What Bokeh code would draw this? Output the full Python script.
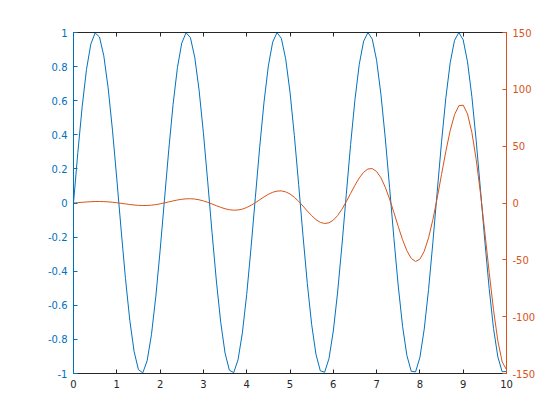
from bokeh.plotting import figure
from bokeh.models import LinearAxis, Range1d, FixedTicker
from bokeh.embed import file_html
from bokeh.resources import INLINE

# x samples 0..10 step 0.1
x = [round(i * 0.1, 1) for i in range(101)]

left_values = [
    0.0, 0.2955, 0.5646, 0.7833, 0.932, 0.9975, 0.9738, 0.8632, 0.6755, 0.4274,
    0.1411, -0.1577, -0.4425, -0.6878, -0.8716, -0.9775, -0.9962, -0.9258, -0.7728, -0.5507,
    -0.2794, 0.0168, 0.3115, 0.5784, 0.7937, 0.938, 0.9985, 0.9699, 0.8546, 0.663,
    0.4121, 0.1245, -0.1743, -0.4575, -0.6999, -0.8797, -0.9809, -0.9946, -0.9193, -0.762,
    -0.5366, -0.2632, 0.0336, 0.3275, 0.5921, 0.8038, 0.9437, 0.9993, 0.9657, 0.8457,
    0.6503, 0.3967, 0.1078, -0.1909, -0.4724, -0.7118, -0.8876, -0.9841, -0.9927, -0.9126,
    -0.751, -0.5224, -0.247, 0.0504, 0.3433, 0.6055, 0.8137, 0.9491, 0.9997, 0.9612,
    0.8367, 0.6374, 0.3812, 0.0911, -0.2073, -0.4872, -0.7235, -0.8951, -0.9871, -0.9904,
    -0.9056, -0.7398, -0.5079, -0.2306, 0.0672, 0.3591, 0.6186, 0.8234, 0.9543, 0.9999,
    0.9564, 0.8276, 0.6243, 0.3656, 0.0743, -0.2237, -0.5019, -0.735, -0.9025, -0.9898,
    -0.988,
]

right_values = [
    0.0, 0.31, 0.62, 0.91, 1.14, 1.28, 1.31, 1.22, 1.01, 0.67,
    0.23, -0.27, -0.81, -1.32, -1.76, -2.07, -2.22, -2.17, -1.9, -1.42,
    -0.76, 0.05, 0.94, 1.83, 2.64, 3.27, 3.66, 3.74, 3.47, 2.83,
    1.85, 0.59, -0.86, -2.38, -3.83, -5.06, -5.93, -6.33, -6.15, -5.36,
    -3.97, -2.04, 0.27, 2.81, 5.34, 7.63, 9.41, 10.48, 10.65, 9.8,
    7.92, 5.08, 1.45, -2.7, -7.03, -11.13, -14.6, -17.01, -18.04, -17.44,
    -15.08, -11.03, -5.48, 1.18, 8.42, 15.62, 22.06, 27.05, 29.95, 30.28,
    27.71, 22.19, 13.95, 3.5, -8.38, -20.72, -32.34, -42.06, -48.76, -51.44,
    -49.44, -42.46, -30.65, -14.63, 4.48, 25.17, 45.59, 63.8, 77.73, 85.62,
    86.09, 78.32, 62.11, 38.24, 8.17, -25.86, -60.99, -93.89, -121.2, -139.73,
    -146.63,
]

x_ticks = [0, 1, 2, 3, 4, 5, 6, 7, 8, 9, 10]
left_ticks = [-1, -0.8, -0.6, -0.4, -0.2, 0, 0.2, 0.4, 0.6, 0.8, 1]
left_tick_labels = ["-1", "-0.8", "-0.6", "-0.4", "-0.2", "0", "0.2", "0.4", "0.6", "0.8", "1"]
right_ticks = [-150, -100, -50, 0, 50, 100, 150]
right_tick_labels = ["-150", "-100", "-50", "0", "50", "100", "150"]

BLUE = "#0072BD"
ORANGE = "#D95319"
DARK = "#262626"
FONT = "DejaVu Sans"
FS = "10px"

p = figure(width=560, height=420, output_backend="svg", toolbar_location=None,
           x_range=Range1d(0, 10), y_range=Range1d(-1, 1),
           y_axis_location=None, x_axis_location=None,
           min_border_left=73, min_border_right=54, min_border_top=32, min_border_bottom=47)
p.frame_width = 433
p.frame_height = 341
p.extra_y_ranges = {"right": Range1d(-150, 150)}
p.grid.visible = False
p.outline_line_color = None
p.background_fill_color = "white"
p.border_fill_color = "white"


def style(ax, color, label_color):
    ax.axis_line_color = color
    ax.axis_line_width = 1
    ax.major_tick_line_color = color
    ax.major_tick_in = 4
    ax.major_tick_out = 0
    ax.minor_tick_line_color = None
    ax.major_label_text_font = FONT
    ax.major_label_text_font_size = FS
    ax.major_label_text_color = label_color
    ax.major_label_standoff = 6


xb = LinearAxis(ticker=FixedTicker(ticks=x_ticks))
style(xb, DARK, DARK)
p.add_layout(xb, "below")

xt = LinearAxis(ticker=FixedTicker(ticks=x_ticks),
                major_label_overrides={t: "" for t in x_ticks})
style(xt, DARK, DARK)
xt.major_label_standoff = 0
p.add_layout(xt, "above")

yl = LinearAxis(ticker=FixedTicker(ticks=left_ticks),
                major_label_overrides={t: s for t, s in zip(left_ticks, left_tick_labels)})
style(yl, BLUE, BLUE)
p.add_layout(yl, "left")

yr = LinearAxis(y_range_name="right", ticker=FixedTicker(ticks=right_ticks),
                major_label_overrides={t: s for t, s in zip(right_ticks, right_tick_labels)})
style(yr, ORANGE, ORANGE)
p.add_layout(yr, "right")

p.line(x, left_values, line_color=BLUE, line_width=1)
p.line(x, right_values, line_color=ORANGE, line_width=1, y_range_name="right")

open("out.html", "w").write(file_html(p, INLINE))
